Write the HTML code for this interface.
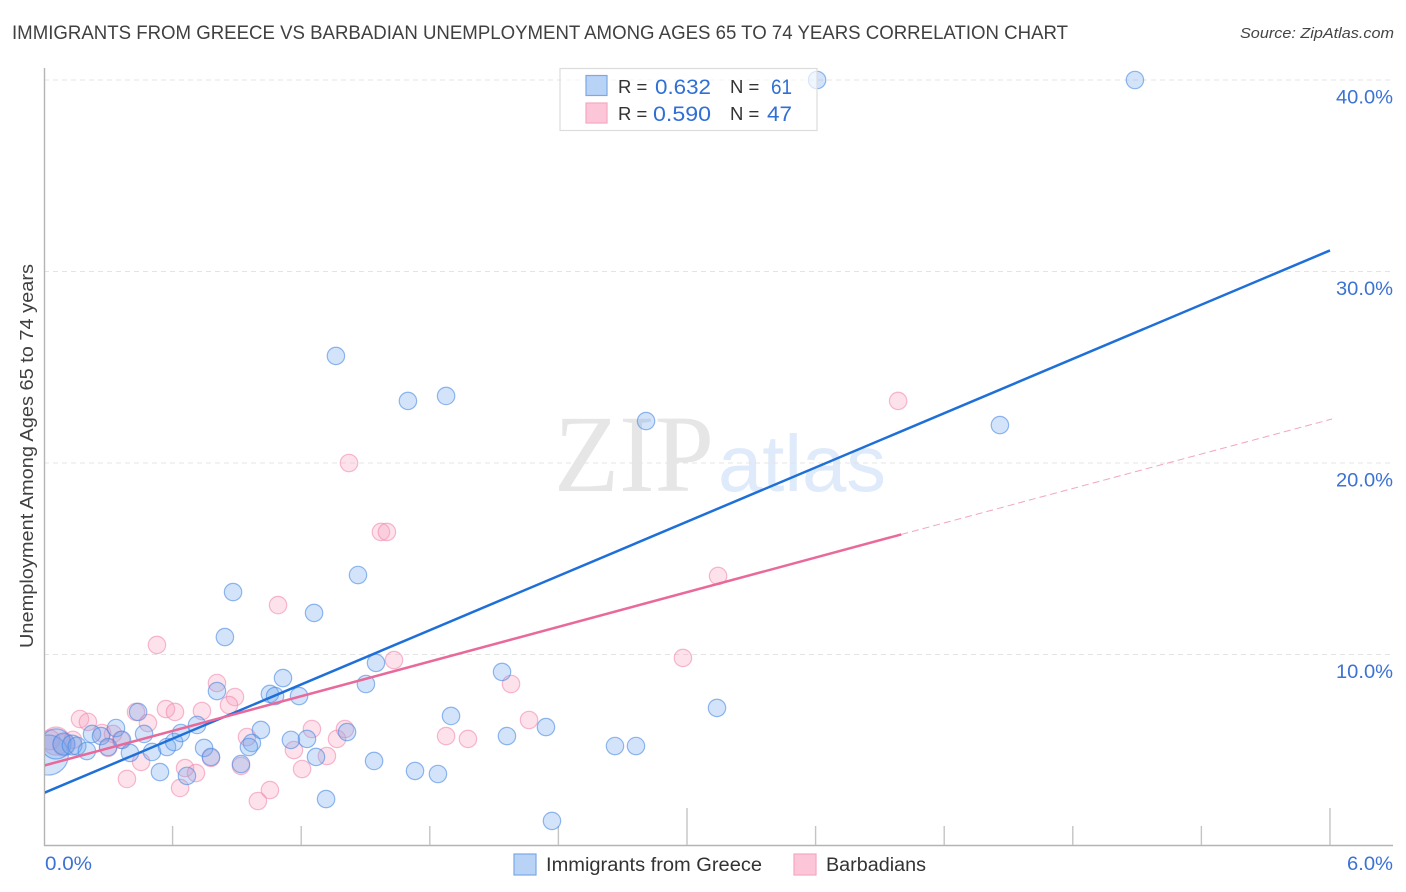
<!DOCTYPE html>
<html lang="en">
<head>
<meta charset="utf-8">
<title>Immigrants from Greece vs Barbadian Unemployment Correlation Chart</title>
<style>
html,body{margin:0;padding:0;background:#fff;width:1406px;height:892px;overflow:hidden}
svg{display:block;font-family:"Liberation Sans",sans-serif}
</style>
</head>
<body>
<svg id="chart" xmlns="http://www.w3.org/2000/svg" width="1406" height="892" viewBox="0 0 1406 892">
  <defs><clipPath id="plot-clip"><rect x="45" y="60" width="1350" height="785"/></clipPath></defs>
  <text x="12" y="39" font-size="19" fill="#404040" textLength="1056" lengthAdjust="spacingAndGlyphs">IMMIGRANTS FROM GREECE VS BARBADIAN UNEMPLOYMENT AMONG AGES 65 TO 74 YEARS CORRELATION CHART</text>
  <text x="1394" y="38" font-size="15" font-style="italic" fill="#444" text-anchor="end" textLength="154" lengthAdjust="spacingAndGlyphs">Source: ZipAtlas.com</text>

  <g>
    <text x="554" y="491" font-family="'Liberation Serif',serif" font-size="110" fill="#e6e6e6" textLength="160" lengthAdjust="spacingAndGlyphs">ZIP</text>
    <text x="718" y="491" font-size="80" fill="#dfeafa" textLength="168" lengthAdjust="spacingAndGlyphs">atlas</text>
  </g>

  <g id="grid"></g>
  <g id="axes"></g>
  <g id="y-labels"></g>
  <g id="marks" clip-path="url(#plot-clip)"></g>

  <text transform="translate(33 456) rotate(-90)" font-size="18" fill="#404040" text-anchor="middle" textLength="384" lengthAdjust="spacingAndGlyphs">Unemployment Among Ages 65 to 74 years</text>
  <text x="45" y="870" font-size="19" fill="#3b72d4" textLength="47" lengthAdjust="spacingAndGlyphs">0.0%</text>
  <text x="1393" y="870" font-size="19" fill="#3b72d4" text-anchor="end" textLength="46" lengthAdjust="spacingAndGlyphs">6.0%</text>

  <g>
    <rect x="560" y="68.5" width="257" height="62" fill="#fff" fill-opacity="0.65" stroke="#dcdcdc" stroke-width="1.2"/>
    <rect x="586" y="75.5" width="21" height="20" fill="#b9d3f7" stroke="#7aaae4" stroke-width="1.2"/>
    <text x="618" y="93" font-size="18.5" fill="#333">R =</text>
    <text x="655" y="94" font-size="21" fill="#2f6fd6" textLength="56" lengthAdjust="spacingAndGlyphs">0.632</text>
    <text x="730" y="93" font-size="18.5" fill="#333">N =</text>
    <text x="771" y="94" font-size="21" fill="#2f6fd6" textLength="21" lengthAdjust="spacingAndGlyphs">61</text>
    <rect x="586" y="103" width="21" height="20" fill="#fcc6d8" stroke="#f5a8c0" stroke-width="1.2"/>
    <text x="618" y="120" font-size="18.5" fill="#333">R =</text>
    <text x="653" y="121" font-size="21" fill="#2f6fd6" textLength="58" lengthAdjust="spacingAndGlyphs">0.590</text>
    <text x="730" y="120" font-size="18.5" fill="#333">N =</text>
    <text x="767" y="121" font-size="21" fill="#2f6fd6" textLength="25" lengthAdjust="spacingAndGlyphs">47</text>
  </g>

  <g>
    <rect x="514" y="854" width="22" height="21" fill="#b9d3f7" stroke="#7aaae4" stroke-width="1.2"/>
    <text x="546" y="871" font-size="19" fill="#333" textLength="216" lengthAdjust="spacingAndGlyphs">Immigrants from Greece</text>
    <rect x="794" y="854" width="22" height="21" fill="#fcc6d8" stroke="#f5a8c0" stroke-width="1.2"/>
    <text x="826" y="871" font-size="19" fill="#333" textLength="100" lengthAdjust="spacingAndGlyphs">Barbadians</text>
  </g>
</svg>

<script>
const yTickValues = [10, 20, 30, 40];
const yTickLabels = ["10.0%", "20.0%", "30.0%", "40.0%"];
const xTickValues = [0.6, 1.2, 1.8, 2.4, 3.0, 3.6, 4.2, 4.8, 5.4, 6.0];
const xMajorTicks = [3.0, 6.0];

const greeceX = [0.02,0.056,0.093,0.131,0.154,0.2,0.224,0.266,0.299,0.336,0.364,0.401,0.439,0.467,0.504,0.541,0.574,0.607,0.639,0.714,0.747,0.779,0.807,0.919,0.667,1.012,0.97,0.956,1.054,1.078,1.115,1.19,1.152,1.227,1.269,1.316,1.414,1.502,1.549,1.54,1.362,1.698,1.876,2.809,4.46,3.607,5.09,1.465,0.882,1.26,0.844,2.137,1.899,2.16,2.342,3.14,2.664,2.762,1.731,1.838,2.37];
const greeceY = [4.75,5.33,5.33,5.27,5.22,4.96,5.85,5.74,5.17,6.16,5.54,4.86,7.0,5.85,4.91,3.86,5.17,5.43,5.9,6.32,5.12,4.65,8.09,4.28,3.66,6.06,5.38,5.17,7.94,7.83,8.77,7.83,5.54,5.59,4.65,2.45,5.95,8.46,9.56,4.44,25.59,23.24,23.5,22.19,21.98,40,40,14.15,13.26,12.17,10.91,9.09,6.79,5.74,6.21,7.21,5.22,5.22,3.92,3.76,1.31];
const greeceWeights = [5.3,3,1.6,1.3,1.07];

const barbadosX = [0.056,0.028,0.093,0.527,0.168,0.205,0.135,0.271,0.322,0.359,0.299,0.429,0.485,0.569,0.611,0.737,0.807,0.891,0.863,0.947,0.453,0.387,0.658,0.709,0.635,0.779,0.919,1.166,1.25,1.204,1.32,1.367,1.404,1.054,0.998,1.633,1.423,3.985,1.572,1.6,1.092,3.145,2.981,2.179,2.263,1.876,1.978];
const barbadosY = [5.48,5.54,5.27,10.5,6.63,6.48,5.54,5.9,5.85,5.54,5.12,7.0,6.42,7.15,7.0,7.05,8.51,7.78,7.36,5.69,4.39,3.5,4.07,3.81,3.03,4.6,4.18,5.01,6.11,4.02,4.7,5.59,6.11,2.92,2.35,9.71,20,23.24,16.4,16.4,12.58,14.1,9.82,8.46,6.58,5.74,5.59];
const barbadosWeights = [2.6,1.3,1.6];

const greeceTrendEnds = [2.77, 31.1];
const greeceTrendRange = [0, 6];
const barbadosTrendEnds = [4.2, 16.27];
const barbadosTrendRange = [0, 4];
const barbadosDashEnds = [16.27, 22.3];
const barbadosDashRange = [4, 6.01];

const SVG_NS = "http://www.w3.org/2000/svg";
const scaleX = v => 44 + v * 214.33;
const scaleY = v => 846 - v * 19.15;
const BASE_RADIUS = 8.7;

function make(parent, tag, attrs) {
  const el = document.createElementNS(SVG_NS, tag);
  for (const key in attrs) el.setAttribute(key, attrs[key]);
  parent.appendChild(el);
  return el;
}

const gridLayer = document.getElementById("grid");
const axesLayer = document.getElementById("axes");
const yLabelLayer = document.getElementById("y-labels");
const marksLayer = document.getElementById("marks");

yTickValues.forEach((v, i) => {
  const line = make(gridLayer, "line", {x1: 44, x2: 1393, y1: scaleY(v), y2: scaleY(v), stroke: "#e4e4e4", "stroke-width": 1, "stroke-dasharray": "5 4"});
  
  
  const label = make(yLabelLayer, "text", {x: 1393, y: scaleY(v) + 23.5, "font-size": 19, fill: "#3b72d4", "text-anchor": "end", textLength: 57, lengthAdjust: "spacingAndGlyphs"});
  label.textContent = yTickLabels[i];
  
  
});

const yAxis = make(axesLayer, "line", {x1: 44.5, x2: 44.5, y1: 68, y2: 846, stroke: "#b4b4b4", "stroke-width": 1.4});


const xAxis = make(axesLayer, "line", {x1: 44, x2: 1393, y1: 845.5, y2: 845.5, stroke: "#b4b4b4", "stroke-width": 1.4});



xTickValues.forEach(v => {
  const top = xMajorTicks.includes(v) ? 808 : 826;
  const tick = make(axesLayer, "line", {x1: scaleX(v), x2: scaleX(v), y1: top, y2: 845, stroke: "#c4c4c4", "stroke-width": 1.4});
  
  
});

function drawSeries(xs, ys, weights, fill, stroke, name) {
  xs.forEach((x, i) => {
    const weight = i < weights.length ? weights[i] : 1;
    const dot = make(marksLayer, "circle", {cx: scaleX(x), cy: scaleY(ys[i]), r: BASE_RADIUS * Math.sqrt(weight), fill: fill, stroke: stroke, "stroke-width": 1.2});
    
    
  });
}

drawSeries(barbadosX, barbadosY, barbadosWeights, "rgba(248,160,190,0.3)", "rgba(240,130,170,0.55)", "barbadians-point");
drawSeries(greeceX, greeceY, greeceWeights, "rgba(110,165,240,0.3)", "rgba(70,135,225,0.58)", "greece-point");

const greeceLine = make(marksLayer, "line", {x1: scaleX(greeceTrendRange[0]), x2: scaleX(greeceTrendRange[1]), y1: scaleY(greeceTrendEnds[0]), y2: scaleY(greeceTrendEnds[1]), stroke: "#1f6fd8", "stroke-width": 2.5});



const barbadosLine = make(marksLayer, "line", {x1: scaleX(barbadosTrendRange[0]), x2: scaleX(barbadosTrendRange[1]), y1: scaleY(barbadosTrendEnds[0]), y2: scaleY(barbadosTrendEnds[1]), stroke: "#e8699a", "stroke-width": 2.5});



const barbadosDash = make(marksLayer, "line", {x1: scaleX(barbadosDashRange[0]), x2: scaleX(barbadosDashRange[1]), y1: scaleY(barbadosDashEnds[0]), y2: scaleY(barbadosDashEnds[1]), stroke: "#f2a5c2", "stroke-width": 1, "stroke-dasharray": "7 4"});


</script>
</body>
</html>
